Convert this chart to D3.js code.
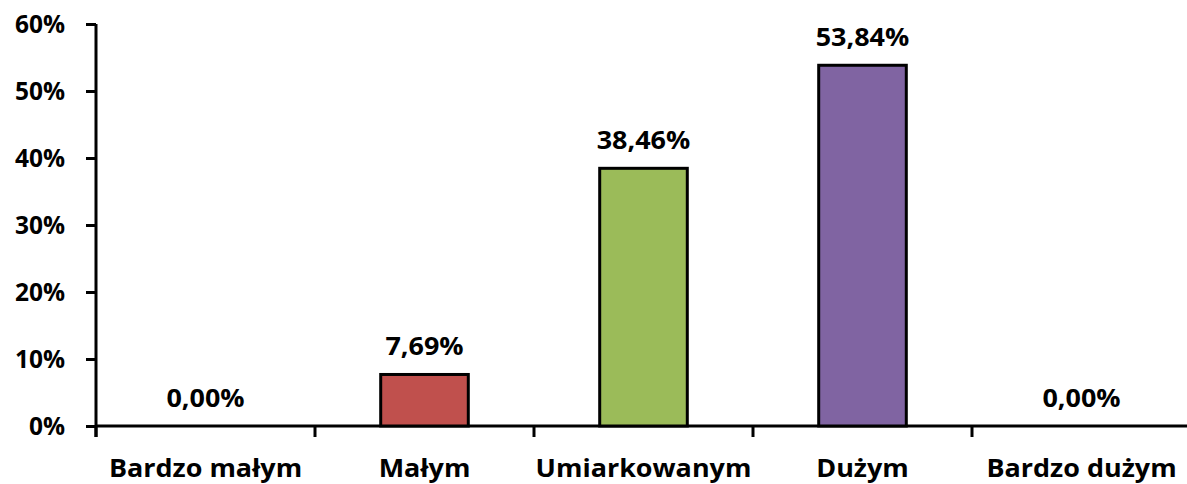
<!DOCTYPE html>
<meta charset="utf-8">
<style>
body { margin: 0; background: #fff; }
svg text { font-family: "Open Sans", sans-serif; font-weight: 700; fill: #000; }
.axis path, .axis line { stroke: #000; stroke-width: 3px; }
.bar { stroke: #000; stroke-width: 3px; }
</style>
<svg width="1187" height="484"></svg>
<script src="https://cdn.jsdelivr.net/npm/d3@7"></script>
<script>

var categories = ["Bardzo małym", "Małym", "Umiarkowanym", "Dużym", "Bardzo dużym"];
var values = [0, 7.69, 38.46, 53.84, 0];
var colors = ["#4F81BD", "#C0504D", "#9BBB59", "#8064A2", "#4BACC6"];
var yTicks = [0, 10, 20, 30, 40, 50, 60];

var svg = d3.select("svg");

var x = d3.scaleBand().domain(categories).range([96, 1191]).paddingInner(0).paddingOuter(0);
var y = d3.scaleLinear().domain([0, 60]).range([426, 24]);

var barW = x.bandwidth() * 0.4;

// y axis
var yAxis = svg.append("g")
    .attr("class", "axis axis--y")
    .attr("transform", "translate(96,0)")
    .call(d3.axisLeft(y).tickValues(yTicks).tickSize(10).tickSizeOuter(0)
      .tickFormat(function(d) { return d + "%"; }));
yAxis.select(".domain").attr("d", "M0,24V437");
yAxis.selectAll("text").attr("x", -31).attr("dy", "0.35em").style("font-size", "24.5px");

// x axis: ticks at band boundaries
var xAxis = svg.append("g")
    .attr("class", "axis axis--x")
    .attr("transform", "translate(0,426)");
xAxis.append("path").attr("class", "domain").attr("d", "M96,0H1191");
xAxis.selectAll("line")
  .data(categories)
  .enter().append("line")
    .attr("x1", function(d) { return x(d); })
    .attr("x2", function(d) { return x(d); })
    .attr("y1", 0).attr("y2", 11);
xAxis.selectAll("text")
  .data(categories)
  .enter().append("text")
    .attr("transform", function(d) { return "translate(" + (x(d) + x.bandwidth() / 2) + ",51) scale(1.1,1)"; })
    .attr("text-anchor", "middle")
    .style("font-size", "24.5px")
    .text(function(d) { return d; });

// bars
svg.selectAll(".bar")
  .data(values.map(function(v, i) { return {c: categories[i], v: v, col: colors[i]}; })
    .filter(function(d) { return d.v > 0; }))
  .enter().append("rect")
    .attr("class", "bar")
    .attr("x", function(d) { return x(d.c) + x.bandwidth() / 2 - barW / 2; })
    .attr("y", function(d) { return y(d.v); })
    .attr("width", barW)
    .attr("height", function(d) { return y(0) - y(d.v); })
    .attr("fill", function(d) { return d.col; });

// value labels
svg.selectAll(".val")
  .data(values)
  .enter().append("text")
    .attr("class", "val")
    .attr("transform", function(d, i) {
      return "translate(" + (x(categories[i]) + x.bandwidth() / 2) + "," + (y(d) - 19) + ") scale(1.1,1)";
    })
    .attr("text-anchor", "middle")
    .style("font-size", "24.5px")
    .text(function(d) { return d.toFixed(2).replace(".", ",") + "%"; });

</script>
